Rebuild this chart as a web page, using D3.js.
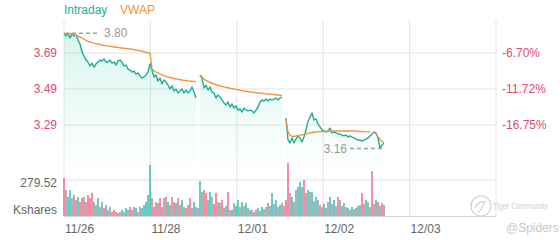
<!DOCTYPE html>
<html><head><meta charset="utf-8">
<script src="https://cdn.jsdelivr.net/npm/d3@7"></script>
<style>
html,body{margin:0;padding:0;background:#fff;}
svg{display:block;font-family:"Liberation Sans",Arial,sans-serif;}
</style></head>
<body><svg id="c" width="560" height="240"></svg>
<script>
// ---- data ----
const dateLabels = ["11/26","11/28","12/01","12/02","12/03"];
const priceTicks = [3.29, 3.49, 3.69];
const pctLabels = ["-16.75%","-11.72%","-6.70%"];
const volTick = 279.52;
const volUnit = "Kshares";
const samplesPerDay = 43.2;
const totalSamples = 216;

const price = [
3.800,3.784,3.800,3.773,3.796,3.784,3.790,3.762,3.740,3.696,
3.673,3.651,3.640,3.618,3.634,3.612,3.629,3.640,3.651,3.646,
3.657,3.640,3.640,3.651,3.634,3.640,3.623,3.646,3.651,3.640,
3.618,3.623,3.601,3.596,3.584,3.590,3.573,3.579,3.562,3.551,
3.557,3.568,3.584,3.629,
3.596,3.557,3.568,3.534,3.551,3.518,3.540,3.529,3.512,3.490,
3.507,3.479,3.490,3.468,3.479,3.490,3.468,3.484,3.468,3.479,
3.501,3.473,3.440,null,
3.568,3.551,3.496,3.512,3.484,3.501,3.473,3.468,3.440,3.457,
3.446,3.429,3.412,3.401,3.418,3.390,3.407,3.384,3.396,3.373,
3.379,3.362,3.384,3.373,3.368,3.373,3.368,3.357,3.373,3.390,
3.418,3.429,3.423,3.434,3.423,3.434,3.429,3.434,3.440,3.429,
3.440,3.446,null,
3.329,3.207,3.190,3.218,3.190,3.212,3.229,3.218,3.196,3.223,
3.262,3.312,3.334,3.357,3.318,3.323,3.296,3.279,3.262,3.257,
3.251,3.257,3.273,3.246,3.251,3.246,3.240,3.240,3.234,3.229,
3.234,3.223,3.229,3.223,3.218,3.212,3.207,3.207,3.201,3.207,
3.212,3.218,3.229,3.240,3.251,3.246,3.218,3.160,3.179,3.190
];

const vwap = [
3.800,3.800,3.799,3.798,3.796,3.792,3.788,3.783,3.778,3.772,
3.766,3.760,3.755,3.751,3.748,3.745,3.742,3.740,3.737,3.734,
3.732,3.731,3.729,3.727,3.726,3.723,3.722,3.721,3.719,3.718,
3.716,3.715,3.713,3.712,3.711,3.709,3.707,3.704,3.702,3.700,
3.697,3.694,3.692,3.689,
3.600,3.593,3.584,3.579,3.573,3.568,3.563,3.559,3.557,3.554,
3.551,3.548,3.546,3.544,3.542,3.540,3.538,3.537,3.535,3.534,
3.533,3.532,3.531,null,
3.568,3.557,3.546,3.538,3.532,3.526,3.522,3.518,3.514,3.511,
3.507,3.504,3.502,3.499,3.497,3.494,3.492,3.490,3.488,3.486,
3.483,3.481,3.479,3.477,3.476,3.474,3.472,3.471,3.469,3.468,
3.467,3.466,3.464,3.463,3.462,3.461,3.460,3.459,3.458,3.457,
3.456,3.454,null,
3.318,3.251,3.234,3.226,3.226,3.229,3.232,3.234,3.236,3.238,
3.241,3.243,3.246,3.248,3.250,3.251,3.252,3.253,3.254,3.254,
3.255,3.256,3.256,3.257,3.257,3.257,3.257,3.257,3.257,3.257,
3.257,3.257,3.257,3.257,3.257,3.256,3.255,3.254,3.254,3.253,
3.253,3.252,3.251,null,3.251,3.240,3.225,3.210,3.198,3.195
];

const volume = [
295,202,148,202,140,163,124,148,109,140,148,109,163,140,179,109,85,140,70,109,
62,85,47,70,31,47,31,23,31,47,31,62,47,70,47,70,62,31,70,62,85,109,163,396,
140,70,109,101,140,70,140,148,109,85,148,109,101,140,85,124,70,62,85,140,62,109,70,62,
272,186,202,179,124,186,148,93,179,109,101,124,62,78,186,47,47,101,78,124,
70,109,78,101,62,47,47,31,47,62,39,70,54,70,101,78,179,93,124,70,85,101,78,
124,411,179,148,109,202,225,264,225,280,179,202,186,186,116,148,124,85,70,93,
62,109,148,93,124,78,148,124,78,101,70,62,47,70,54,62,78,85,179,93,
124,109,70,349,93,124,109,78,101,85
];

const volColor = (
"rnggnrngrr" + "nrrrrgngnn" + "rgnnrrnrng" + "ngnrnngnng" + "gggg" +
"rrnrrnnrgn" + "nrgrngnrnr" + "ngnn" +
"gnrrggnrrn" + "nrngrngngg" + "ngngngnrng" + "ngnnnggngn" + "gnr" +
"rrngnnggnr" + "ngngngnrng" + "nngngnrngn" + "ngngnngnrn" + "gnnrngrnrn"
).split("");

// ---- drawing ----
const svg = d3.select("#c");
const L = 64, R = 496, T = 20, B = 216;
const x = d3.scaleLinear().domain([0, totalSamples]).range([L, R]);
const y = d3.scaleLinear().domain([3.29, 3.69]).range([125, 53]);
const yv = d3.scaleLinear().domain([0, volTick]).range([B, 180]);
const grid = "#e3e3e3";

// gradient
const defs = svg.append("defs");
const g1 = defs.append("linearGradient").attr("id","fillG")
  .attr("gradientUnits","userSpaceOnUse").attr("x1",0).attr("y1",T).attr("x2",0).attr("y2",172);
g1.append("stop").attr("offset","0%").attr("stop-color","#2ccf9e").attr("stop-opacity",0.2);
g1.append("stop").attr("offset","100%").attr("stop-color","#2ccf9e").attr("stop-opacity",0.0);

// grid
const gg = svg.append("g");
priceTicks.forEach(v => gg.append("line").attr("x1",L).attr("x2",R)
  .attr("y1",y(v)).attr("y2",y(v)).attr("stroke",grid));
[volTick].forEach(v => gg.append("line").attr("x1",L).attr("x2",R)
  .attr("y1",yv(v)).attr("y2",yv(v)).attr("stroke",grid));
gg.append("line").attr("x1",L).attr("x2",R).attr("y1",B+0.5).attr("y2",B+0.5).attr("stroke","#d6d6d6");
dateLabels.forEach((d,i) => gg.append("line").attr("x1",x(i*samplesPerDay)).attr("x2",x(i*samplesPerDay))
  .attr("y1",T).attr("y2",B).attr("stroke",grid));
gg.append("line").attr("x1",R).attr("x2",R).attr("y1",T).attr("y2",B).attr("stroke",grid);

// area
const pts = price.map((p,i)=>({i, p, v: vwap[i]}));
svg.append("path").datum(pts)
  .attr("d", d3.area().defined(d=>d.p!=null).x(d=>x(d.i)).y0(172).y1(d=>y(d.p)))
  .attr("fill","url(#fillG)");

// volume bars
svg.append("g").selectAll("rect").data(volume).join("rect")
  .attr("x",(d,i)=>x(i)-0.8).attr("width",1.6)
  .attr("y",d=>yv(d)).attr("height",d=>B - yv(d))
  .attr("fill",(d,i)=> volColor[i]==="r" ? "#f2748c" : volColor[i]==="g" ? "#3fc3b3" : "#9d9cab");

// lines
svg.append("path").datum(pts)
  .attr("d", d3.line().defined(d=>d.p!=null).x(d=>x(d.i)).y(d=>y(d.p)))
  .attr("fill","none").attr("stroke","#19ad9c").attr("stroke-width",1.4).attr("stroke-linejoin","round");
svg.append("path").datum(pts)
  .attr("d", d3.line().defined(d=>d.v!=null).x(d=>x(d.i)).y(d=>y(d.v)))
  .attr("fill","none").attr("stroke","#f2943a").attr("stroke-width",1.4).attr("stroke-linejoin","round");

// max / min annotations
const valid = pts.filter(d=>d.p!=null);
const mx = valid.reduce((a,b)=> b.p>a.p ? b : a);
const mn = valid.reduce((a,b)=> b.p<a.p ? b : a);
svg.append("line").attr("x1",x(mx.i)+8).attr("x2",x(mx.i)+36).attr("y1",y(mx.p)).attr("y2",y(mx.p))
  .attr("stroke","#a0a0a0").attr("stroke-width",1.5).attr("stroke-dasharray","4,3");
svg.append("text").attr("x",x(mx.i)+40).attr("y",y(mx.p)).attr("dy","0.35em")
  .attr("font-size",12).attr("fill","#999").text(mx.p.toFixed(2));
svg.append("line").attr("x1",x(mn.i)-30).attr("x2",x(mn.i)+2).attr("y1",y(mn.p)).attr("y2",y(mn.p))
  .attr("stroke","#a0a0a0").attr("stroke-width",1.5).attr("stroke-dasharray","4,3");
svg.append("text").attr("x",x(mn.i)-33).attr("y",y(mn.p)).attr("dy","0.35em").attr("text-anchor","end")
  .attr("font-size",12).attr("fill","#999").text(mn.p.toFixed(2));

// axes labels
priceTicks.forEach((v,k) => {
  svg.append("text").attr("x",57).attr("y",y(v)).attr("dy","0.35em").attr("text-anchor","end")
    .attr("font-size",12).attr("fill","#e04b6c").text(v.toFixed(2));
  svg.append("text").attr("x",502).attr("y",y(v)).attr("dy","0.35em")
    .attr("font-size",12).attr("fill","#e04b6c").text(pctLabels[k]);
});
svg.append("text").attr("x",57).attr("y",yv(volTick)).attr("dy","0.6em").attr("text-anchor","end")
  .attr("font-size",12).attr("fill","#666").text(volTick.toFixed(2));
svg.append("text").attr("x",57).attr("y",214).attr("text-anchor","end")
  .attr("font-size",12).attr("fill","#666").text(volUnit);
dateLabels.forEach((d,i) => svg.append("text").attr("x",x(i*samplesPerDay)+1).attr("y",233)
  .attr("font-size",12).attr("fill","#666").text(d));

// legend
svg.append("text").attr("x",64).attr("y",14).attr("font-size",12).attr("fill","#19ad9c").text("Intraday");
svg.append("text").attr("x",120).attr("y",14).attr("font-size",12).attr("fill","#f2943a").text("VWAP");

// watermark
const wm = svg.append("g");
wm.append("circle").attr("cx",481).attr("cy",206).attr("r",10).attr("fill","none").attr("stroke","#d0d0d0").attr("stroke-width",1.2);
wm.append("path").attr("d","M475,208 q4,-8 11,-6 M478,212 q5,-3 6,-10").attr("fill","none").attr("stroke","#d0d0d0").attr("stroke-width",1.2);
wm.append("text").attr("x",493).attr("y",209).attr("font-size",8.5).attr("textLength",55)
  .attr("lengthAdjust","spacingAndGlyphs").attr("fill","#cfcfcf").text("Tiger Community");
wm.append("text").attr("x",506).attr("y",232).attr("font-size",12).attr("fill","#c8c8c8").text("@Spiders");
</script></body></html>
